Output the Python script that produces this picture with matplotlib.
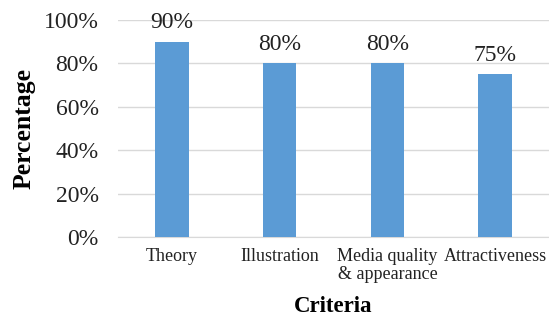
import matplotlib.pyplot as plt
import numpy as np

categories = ["Theory", "Illustration", "Media quality\n& appearance", "Attractiveness"]
values = [90, 80, 80, 75]
y_ticks = [0, 20, 40, 60, 80, 100]

plt.rcParams['font.family'] = ['Liberation Serif', 'DejaVu Serif']

fig = plt.figure(figsize=(5.49, 3.2), dpi=100)
ax = fig.add_axes([118 / 549, 1 - 237 / 320, 431 / 549, 217 / 320])

x = np.arange(len(categories))
ax.bar(x, values, width=0.31, color="#5B9BD5", zorder=3)

for xi, v in zip(x, values):
    ax.annotate("%d%%" % v, (xi, v), xytext=(0, 6), textcoords="offset points",
                ha="center", va="bottom", fontsize=17, color="#222222")

ax.set_xlim(-0.5, len(categories) - 0.5)
ax.set_ylim(0, 100)
ax.set_yticks(y_ticks)
ax.set_yticklabels(["%d%%" % t for t in y_ticks], fontsize=17, color="#222222")
ax.set_xticks(x)
ax.set_xticklabels(categories, fontsize=13, color="#222222", linespacing=1.1, va="top")
ax.tick_params(length=0)
ax.tick_params(axis="x", pad=8)
ax.tick_params(axis="y", pad=14)

ax.grid(axis="y", color="#D9D9D9", linewidth=1, zorder=0)
for s in ["top", "right", "left"]:
    ax.spines[s].set_visible(False)
ax.spines["bottom"].set_color("#D9D9D9")

ax.set_ylabel("Percentage", fontsize=18.5, fontweight="bold", labelpad=6)
ax.set_xlabel("Criteria", fontsize=16.5, fontweight="bold", labelpad=9)

fig.savefig("out.png", dpi=100)
